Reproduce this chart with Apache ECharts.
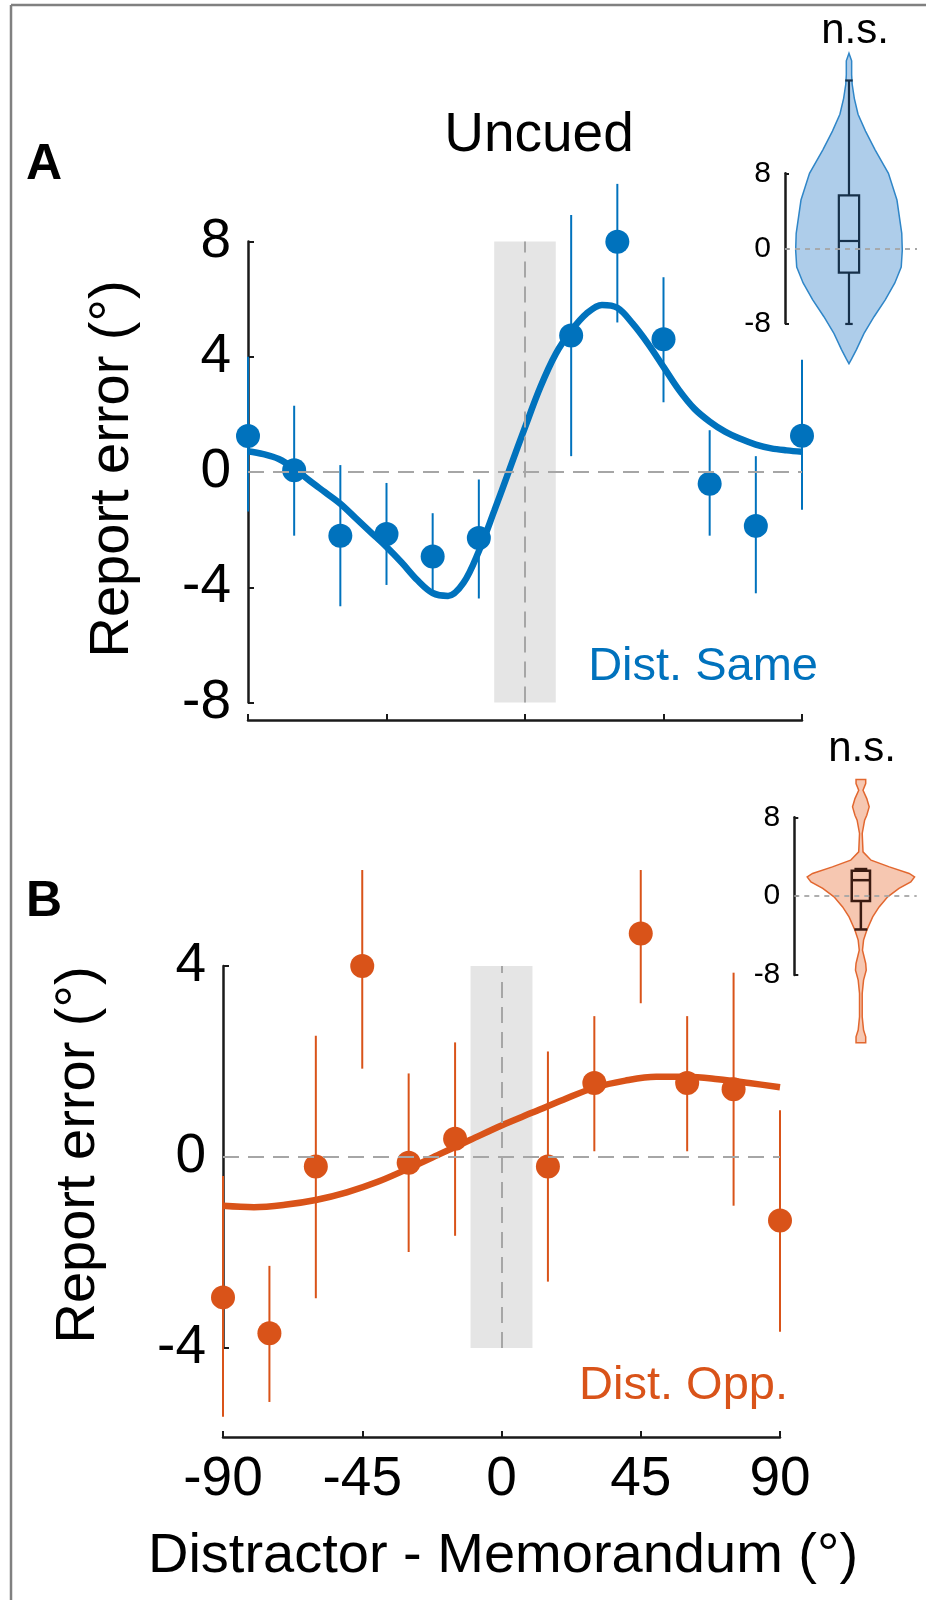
<!DOCTYPE html>
<html>
<head>
<meta charset="utf-8">
<script src="https://cdn.jsdelivr.net/npm/echarts@6/dist/echarts.min.js"></script>
<style>
html, body { margin: 0; padding: 0; background: #fff; }
#chart { width: 926px; height: 1600px; }
</style>
</head>
<body>
<div id="chart"></div>
<script>
var FONT = '"Liberation Sans", Arial, sans-serif';
var BLUE = '#0072BD';
var ORANGE = '#D95319';
var AXIS = '#1a1a1a';
var DASH = '#a6a6a6';

// bins of distractor - memorandum (deg)
var bins = [-90, -75, -60, -45, -30, -15, 15, 30, 45, 60, 75, 90];

// A: dist. same
var sameMean  = [1.25, 0.06, -2.21, -2.15, -2.93, -2.29, 4.74, 7.99, 4.61, -0.41, -1.87, 1.26];
var sameUpper = [4.0, 2.30, 0.24, -0.38, -1.43, -0.26, 8.92, 10.0, 6.76, 1.45, 0.55, 3.9];
var sameLower = [-1.37, -2.21, -4.66, -3.92, -4.18, -4.39, 0.55, 5.19, 2.42, -2.21, -4.21, -1.31];

// B: dist. opp
var oppMean  = [-2.94, -3.69, -0.20, 4.0, -0.12, 0.38, -0.20, 1.55, 4.68, 1.55, 1.42, -1.33];
var oppUpper = [-0.40, -2.28, 2.54, 6.01, 1.75, 2.40, 2.21, 2.95, 6.01, 2.95, 3.86, 0.98];
var oppLower = [-5.44, -5.13, -2.96, 1.85, -1.99, -1.65, -2.61, 0.12, 3.22, 0.12, -1.02, -3.66];

// fitted curves
var sameFitX = [-90, -85, -80, -75, -70, -65, -60, -55, -50, -45, -40, -35, -30, -25, -20, -15, -10, -5, 0,
                5, 10, 15, 20, 25, 30, 35, 40, 45, 50, 55, 60, 65, 70, 75, 80, 85, 90];
var sameFit = [0.72, 0.62, 0.45, 0.12, -0.3, -0.7, -1.1, -1.6, -2.1, -2.6, -3.15, -3.75, -4.2, -4.3, -3.85, -2.75, -1.35, 0.1, 1.55,
               2.95, 4.1, 4.9, 5.5, 5.8, 5.7, 5.15, 4.45, 3.65, 2.85, 2.2, 1.75, 1.4, 1.15, 0.95, 0.82, 0.75, 0.7];
var oppFitX = [-90, -80, -70, -60, -50, -40, -30, -20, -10, 0, 10, 20, 30, 40, 50, 60, 70, 80, 90];
var oppFit = [-1.02, -1.05, -1.0, -0.9, -0.74, -0.52, -0.24, 0.06, 0.36, 0.66, 0.93, 1.2, 1.45, 1.6, 1.68, 1.68, 1.63, 1.55, 1.46];

var bandRange = [-10, 10];

// violins (value, relative half width)
var violinSameVal = [20.8, 20.0, 18.5, 17.5, 16.0, 14.3, 12.5, 10.5, 8.0, 5.15, 1.6, -0.2, -2.0, -3.7, -5.5, -7.3, -9.1, -10.8, -11.8, -12.3];
var violinSameW   = [0.0, 0.05, 0.05, 0.06, 0.1, 0.17, 0.31, 0.49, 0.74, 0.9, 0.99, 1.0, 0.98, 0.86, 0.68, 0.47, 0.28, 0.14, 0.05, 0.0];
var boxSame = [-2.6, 0.78, 5.65];       // q1, median, q3
var whiskerSame = [-8.07, 17.9];

var violinOppVal = [11.83, 11.43, 10.75, 9.9, 9.06, 8.2, 7.71, 6.36, 4.49, 3.65, 2.97, 2.30, 1.96, 1.45, 0.78, -0.07, -1.09, -2.1,
                    -3.45, -4.46, -5.48, -6.83, -7.5, -8.52, -9.87, -12.24, -13.59, -14.27, -14.88];
var violinOppW   = [0.09, 0.09, 0.04, 0.11, 0.155, 0.11, 0.07, 0.025, 0.04, 0.19, 0.53, 0.9, 1.0, 0.93, 0.71, 0.5, 0.34, 0.22,
                    0.11, 0.05, 0.03, 0.09, 0.1, 0.05, 0.025, 0.025, 0.05, 0.09, 0.09];
var boxOpp = [-0.5, 1.62, 2.57];
var whiskerOpp = [-3.38, 2.75];

function pairs(xs, ys) {
    return xs.map(function (x, i) { return [x, ys[i]]; });
}

function errData(lo, hi) {
    return bins.map(function (x, i) { return [x, lo[i], hi[i]]; });
}

function errRender(color) {
    return function (params, api) {
        var p1 = api.coord([api.value(0), api.value(1)]);
        var p2 = api.coord([api.value(0), api.value(2)]);
        return {
            type: 'line',
            shape: { x1: p1[0], y1: p1[1], x2: p2[0], y2: p2[1] },
            style: { stroke: color, lineWidth: 2 }
        };
    };
}

function violinRender(vals, ws, fill, stroke) {
    return function (params, api) {
        var pts = [], i;
        for (i = 0; i < vals.length; i++) pts.push(api.coord([ws[i], vals[i]]));
        for (i = vals.length - 1; i >= 0; i--) pts.push(api.coord([-ws[i], vals[i]]));
        return {
            type: 'polygon',
            shape: { points: pts },
            style: { fill: fill, stroke: stroke, lineWidth: 1.5 }
        };
    };
}

function boxRender(box, whisk, hw, cap, color, lw) {
    return function (params, api) {
        var tl = api.coord([-hw, box[2]]), br = api.coord([hw, box[0]]);
        var m1 = api.coord([-hw, box[1]]), m2 = api.coord([hw, box[1]]);
        var wt = api.coord([0, whisk[1]]), wb = api.coord([0, whisk[0]]);
        var bt = api.coord([0, box[2]]), bb = api.coord([0, box[0]]);
        var c1 = api.coord([-cap, whisk[1]]), c2 = api.coord([cap, whisk[1]]);
        var c3 = api.coord([-cap, whisk[0]]), c4 = api.coord([cap, whisk[0]]);
        var st = { stroke: color, lineWidth: lw, fill: null };
        return {
            type: 'group',
            children: [
                { type: 'line', shape: { x1: wt[0], y1: wt[1], x2: bt[0], y2: bt[1] }, style: st },
                { type: 'line', shape: { x1: wb[0], y1: wb[1], x2: bb[0], y2: bb[1] }, style: st },
                { type: 'line', shape: { x1: c1[0], y1: c1[1], x2: c2[0], y2: c2[1] }, style: st },
                { type: 'line', shape: { x1: c3[0], y1: c3[1], x2: c4[0], y2: c4[1] }, style: st },
                { type: 'rect', shape: { x: tl[0], y: tl[1], width: br[0] - tl[0], height: br[1] - tl[1] }, style: st },
                { type: 'line', shape: { x1: m1[0], y1: m1[1], x2: m2[0], y2: m2[1] }, style: st }
            ]
        };
    };
}

function mainX(idx, offset, showLabel) {
    return {
        gridIndex: idx, type: 'value', min: -90, max: 90, interval: 45, offset: offset,
        axisLine: { show: true, onZero: false, lineStyle: { color: AXIS, width: 2.5 } },
        axisTick: { show: true, inside: true, length: 6, lineStyle: { color: AXIS, width: 2 } },
        axisLabel: { show: showLabel, fontSize: 55, fontFamily: FONT, color: '#000', margin: 15, showMinLabel: true, showMaxLabel: true },
        splitLine: { show: false }
    };
}

function mainY(idx, min, max) {
    return {
        gridIndex: idx, type: 'value', min: min, max: max, interval: 4,
        axisLine: { show: true, onZero: false, lineStyle: { color: AXIS, width: 2.5 } },
        axisTick: { show: true, inside: true, length: 6, lineStyle: { color: AXIS, width: 2 } },
        axisLabel: { fontSize: 55, fontFamily: FONT, color: '#000', margin: 17 },
        splitLine: { show: false }
    };
}

function insetX(idx, min, max) {
    return { gridIndex: idx, type: 'value', min: min, max: max, show: false };
}

function insetY(idx, margin) {
    return {
        gridIndex: idx, type: 'value', min: -8, max: 8, interval: 8,
        axisLine: { show: true, onZero: false, lineStyle: { color: AXIS, width: 2.5 } },
        axisTick: { show: true, inside: true, length: 4, lineStyle: { color: AXIS, width: 2 } },
        axisLabel: { fontSize: 30, fontFamily: FONT, color: '#000', margin: margin },
        splitLine: { show: false }
    };
}

function refLines(xi, yi, data, dash, width) {
    return {
        type: 'line', xAxisIndex: xi, yAxisIndex: yi, data: [], silent: true, z: 1.5,
        markLine: {
            silent: true, symbol: ['none', 'none'], label: { show: false },
            lineStyle: { type: dash, color: DASH, width: width },
            data: data
        }
    };
}

function bandSeries(xi, yi, lo, hi) {
    return {
        type: 'line', xAxisIndex: xi, yAxisIndex: yi, data: [], silent: true, z: 1,
        markArea: {
            silent: true, itemStyle: { color: '#e5e5e5' },
            data: [[{ xAxis: bandRange[0], yAxis: lo }, { xAxis: bandRange[1], yAxis: hi }]]
        }
    };
}

function text(x, y, str, size, color, opts) {
    var o = {
        type: 'text', x: x, y: y, z: 100,
        style: { text: str, fontSize: size, fontFamily: FONT, fill: color || '#000', align: 'center', verticalAlign: 'middle' }
    };
    if (opts) {
        if (opts.rotation) o.rotation = opts.rotation;
        if (opts.align) o.style.align = opts.align;
        if (opts.bold) o.style.fontWeight = 'bold';
    }
    return o;
}

var chart = echarts.init(document.getElementById('chart'));

var option = {
    animation: false,
    backgroundColor: '#fff',
    grid: [
        { left: 248, top: 241.5, width: 554, height: 461, outerBoundsMode: 'none', containLabel: false },
        { left: 223, top: 966, width: 557, height: 382, outerBoundsMode: 'none', containLabel: false },
        { left: 785, top: 173.3, width: 132, height: 150, outerBoundsMode: 'none', containLabel: false },
        { left: 794.3, top: 817.3, width: 122.4, height: 157.7, outerBoundsMode: 'none', containLabel: false }
    ],
    xAxis: [
        mainX(0, 17.5, false),
        mainX(1, 89, true),
        insetX(2, -1.2, 1.276),
        insetX(3, -1.24, 1.04)
    ],
    yAxis: [
        mainY(0, -8, 8),
        mainY(1, -4, 4),
        insetY(2, 14),
        insetY(3, 14)
    ],
    series: [
        // panel A
        bandSeries(0, 0, -8, 8),
        refLines(0, 0, [{ yAxis: 0 }, { xAxis: 0 }], [16, 9], 2),
        {
            type: 'custom', xAxisIndex: 0, yAxisIndex: 0, z: 2,
            renderItem: errRender(BLUE), data: errData(sameLower, sameUpper), encode: { x: 0, y: [1, 2] }
        },
        {
            type: 'line', xAxisIndex: 0, yAxisIndex: 0, z: 3, smooth: 0.35, showSymbol: false,
            lineStyle: { color: BLUE, width: 6.5 }, data: pairs(sameFitX, sameFit)
        },
        {
            type: 'scatter', xAxisIndex: 0, yAxisIndex: 0, z: 4, symbolSize: 24, clip: false,
            itemStyle: { color: BLUE, opacity: 1 }, data: pairs(bins, sameMean)
        },
        // panel B
        bandSeries(1, 1, -4, 4),
        refLines(1, 1, [{ yAxis: 0 }, { xAxis: 0 }], [16, 9], 2),
        {
            type: 'custom', xAxisIndex: 1, yAxisIndex: 1, z: 2,
            renderItem: errRender(ORANGE), data: errData(oppLower, oppUpper), encode: { x: 0, y: [1, 2] }
        },
        {
            type: 'line', xAxisIndex: 1, yAxisIndex: 1, z: 3, smooth: 0.35, showSymbol: false,
            lineStyle: { color: ORANGE, width: 6.5 }, data: pairs(oppFitX, oppFit)
        },
        {
            type: 'scatter', xAxisIndex: 1, yAxisIndex: 1, z: 4, symbolSize: 24, clip: false,
            itemStyle: { color: ORANGE, opacity: 1 }, data: pairs(bins, oppMean)
        },
        // inset A
        {
            type: 'custom', xAxisIndex: 2, yAxisIndex: 2, z: 2, data: [[0, 0]],
            renderItem: violinRender(violinSameVal, violinSameW, '#aecdea', '#2f86c8')
        },
        refLines(2, 2, [{ yAxis: 0 }], [5, 5], 1.8),
        {
            type: 'custom', xAxisIndex: 2, yAxisIndex: 2, z: 4, data: [[0, 0]],
            renderItem: boxRender(boxSame, whiskerSame, 0.19, 0.07, '#16304a', 2.2)
        },
        // inset B
        {
            type: 'custom', xAxisIndex: 3, yAxisIndex: 3, z: 2, data: [[0, 0]],
            renderItem: violinRender(violinOppVal, violinOppW, '#f6c7b1', '#e2672f')
        },
        refLines(3, 3, [{ yAxis: 0 }], [5, 5], 1.8),
        {
            type: 'custom', xAxisIndex: 3, yAxisIndex: 3, z: 4, data: [[0, 0]],
            renderItem: boxRender(boxOpp, whiskerOpp, 0.17, 0.12, '#3a1a10', 2.5)
        }
    ],
    graphic: [
        { type: 'line', shape: { x1: 11, y1: 5, x2: 926, y2: 5 }, style: { stroke: '#808080', lineWidth: 2.5 } },
        { type: 'line', shape: { x1: 11, y1: 5, x2: 11, y2: 1600 }, style: { stroke: '#808080', lineWidth: 2.5 } },
        text(44, 165, 'A', 50, '#000', { bold: true }),
        text(44, 902, 'B', 50, '#000', { bold: true }),
        text(539, 136, 'Uncued', 55),
        text(113, 469, 'Report error (\u00b0)', 56, '#000', { rotation: Math.PI / 2 }),
        text(79, 1155, 'Report error (\u00b0)', 56, '#000', { rotation: Math.PI / 2 }),
        text(503, 1557, 'Distractor - Memorandum (\u00b0)', 56),
        text(855, 31, 'n.s.', 42),
        text(862, 749, 'n.s.', 42),
        text(818, 667, 'Dist. Same', 47, BLUE, { align: 'right' }),
        text(788, 1386, 'Dist. Opp.', 47, ORANGE, { align: 'right' })
    ]
};

chart.setOption(option);
</script>
</body>
</html>
